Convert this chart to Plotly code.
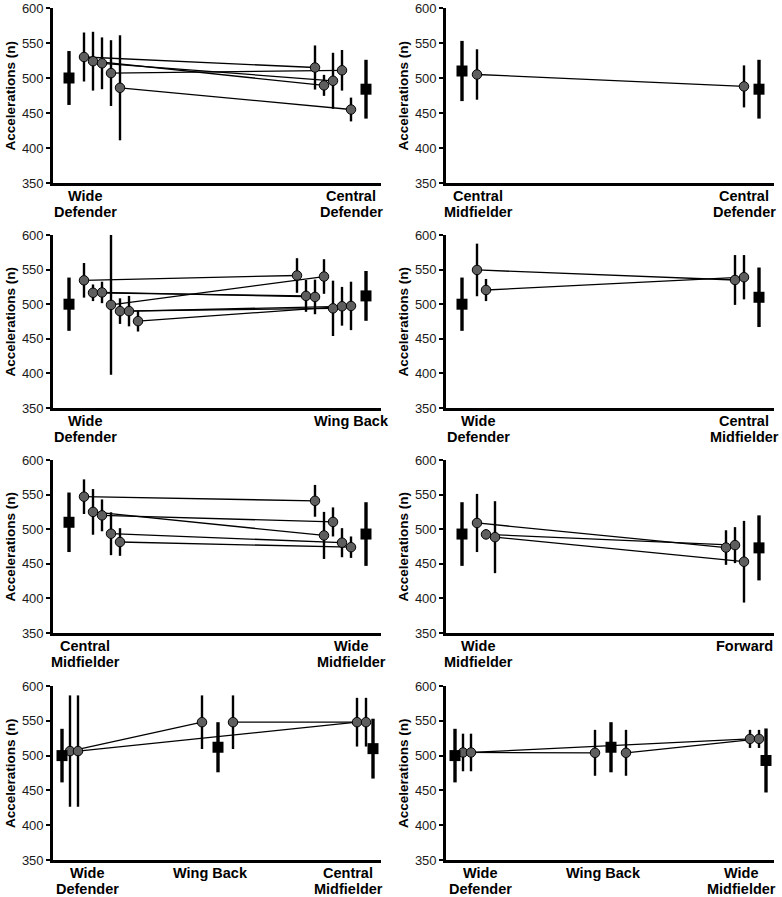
import plotly.graph_objects as go

FIG_W, FIG_H = 782, 897

# ---------------- data ----------------
position_labels = ["Wide<br>Defender", "Central<br>Defender", "Central<br>Midfielder",
                   "Wing Back", "Wide<br>Midfielder", "Forward"]
group_mean = [500, 484, 510, 512, 493, 473]
group_sd = [38.5, 42, 43, 36, 46, 47]

y_ticks = [350, 400, 450, 500, 550, 600]
y_title = "Accelerations (n)"

# categories shown in each panel (indexes into position_labels)
panel_categories = [[0, 1], [2, 1], [0, 3], [0, 2], [2, 4], [4, 5], [0, 3, 2], [0, 3, 4]]

# individual players: outer list = category, inner list = player (None = not observed)
p1_values = [[530, 524, 521, 507, 486], [515, 489.5, 496, 511, 455]]
p1_sd = [[35, 42, 37, 47, 75], [31.5, 15, 40, 29, 17]]

p2_values = [[505], [488]]
p2_sd = [[36], [30]]

p3_values = [[534.5, 516.5, 517, 499, 490, 490, 475.5], [541.5, 512, 510.5, 540, 494, 497, 497.5]]
p3_sd = [[25, 12, 15.5, 101, 18.5, 22, 15], [25, 23, 25, 25, 40, 28, 35]]

p4_values = [[549.5, 520.5], [535, 539]]
p4_sd = [[38, 16], [36, 32]]

p5_values = [[547, 525, 520, 493.5, 481.5], [541, 491, 510.5, 480.5, 474]]
p5_sd = [[25, 33, 23, 31, 20], [23, 34, 21, 21, 15.5]]

p6_values = [[509, 492.5, 488.5], [473.5, 477, 453]]
p6_sd = [[42, 7, 52], [25, 26, 59]]

p7_values = [[506.5, 506.5, None], [548, None, 548], [None, 548, 548]]
p7_sd = [[80, 80, None], [38.5, None, 38.5], [None, 35, 35]]

p8_values = [[504.5, 504.5, None], [504, None, 504], [None, 524, 524]]
p8_sd = [[27, 27, None], [33, None, 33], [None, 13, 13]]

panel_values = [p1_values, p2_values, p3_values, p4_values, p5_values, p6_values, p7_values, p8_values]
panel_sd = [p1_sd, p2_sd, p3_sd, p4_sd, p5_sd, p6_sd, p7_sd, p8_sd]

# ---------------- layout constants (pixels) ----------------
COL_X = [(53, 381), (446, 774)]
ROW_Y = [(8, 183), (235, 408), (460, 633), (686, 860)]
AXIS_W = 328
SQUARE_X = {2: [16, 313], 3: [9, 165, 320]}
LABEL_X = {2: [32, 298], 3: [34, 157, 295]}

FONT = "Liberation Sans, Arial, sans-serif"
CIRCLE_FILL = "#5e5e5e"


def player_x(ncat, cat, k, n):
    if ncat == 2:
        return 31 + 9 * k if cat == 0 else 298 - 9 * (n - 1 - k)
    if cat == 0:
        return 17 + 8 * k
    if cat == 1:
        return (149, 180)[k]
    return 304 + 9 * k


def px_to_paper_y(py):
    return 1 - py / FIG_H


fig = go.Figure()
layout = dict(
    template="none",
    width=FIG_W, height=FIG_H,
    margin=dict(l=0, r=0, t=0, b=0, pad=0, autoexpand=False),
    paper_bgcolor="white", plot_bgcolor="white",
    showlegend=False,
    font=dict(family=FONT, color="black"),
)
annotations = []

for p, cats in enumerate(panel_categories):
    row, col = divmod(p, 2)
    ax = "" if p == 0 else str(p + 1)
    xref, yref = "x" + ax, "y" + ax
    x0, x1 = COL_X[col]
    ytop, ybot = ROW_Y[row]
    ncat = len(cats)
    values = panel_values[p]
    sds = panel_sd[p]
    nplayers = len(values[0])

    # x positions of each player in each category
    px = [[None] * nplayers for _ in cats]
    for c in range(ncat):
        present = [i for i in range(nplayers) if values[c][i] is not None]
        for k, i in enumerate(present):
            px[c][i] = player_x(ncat, c, k, len(present))

    # connecting lines
    for i in range(nplayers):
        xs = [px[c][i] for c in range(ncat) if values[c][i] is not None]
        ys = [values[c][i] for c in range(ncat) if values[c][i] is not None]
        fig.add_trace(go.Scatter(x=xs, y=ys, mode="lines", xaxis=xref, yaxis=yref,
                                 line=dict(color="black", width=1.3), hoverinfo="skip"))

    # player markers
    for c in range(ncat):
        present = [i for i in range(nplayers) if values[c][i] is not None]
        fig.add_trace(go.Scatter(
            x=[px[c][i] for i in present], y=[values[c][i] for i in present],
            mode="markers", xaxis=xref, yaxis=yref,
            marker=dict(symbol="circle", size=9.5, color=CIRCLE_FILL,
                        line=dict(color="black", width=1)),
            error_y=dict(type="data", array=[sds[c][i] for i in present], symmetric=True,
                         color="black", thickness=2.4, width=0),
            cliponaxis=False))

    # group means
    fig.add_trace(go.Scatter(
        x=SQUARE_X[ncat], y=[group_mean[g] for g in cats],
        mode="markers", xaxis=xref, yaxis=yref,
        marker=dict(symbol="square", size=11, color="black"),
        error_y=dict(type="data", array=[group_sd[g] for g in cats], symmetric=True,
                     color="black", thickness=3.4, width=0),
        cliponaxis=False))

    layout["xaxis" + ax] = dict(
        domain=[x0 / FIG_W, x1 / FIG_W], range=[0, AXIS_W], anchor=yref, automargin=False,
        showgrid=False, zeroline=False, showticklabels=False, ticks="",
        showline=True, linecolor="black", linewidth=2.6, fixedrange=True)
    layout["yaxis" + ax] = dict(
        domain=[px_to_paper_y(ybot), px_to_paper_y(ytop)], range=[350, 600], anchor=xref,
        automargin=False,
        tickvals=y_ticks, ticks="outside", ticklen=4, tickwidth=2, tickcolor="black",
        tickfont=dict(size=13, family=FONT, color="#1a1a1a"),
        showgrid=False, zeroline=False, showline=True, linecolor="black", linewidth=2.6,
        fixedrange=True)

    # y axis title
    annotations.append(dict(
        text=y_title, textangle=-90, xref="paper", yref="paper",
        x=(x0 - 43) / FIG_W, y=px_to_paper_y((ytop + ybot) / 2),
        xanchor="center", yanchor="middle", showarrow=False,
        font=dict(size=13.5, family=FONT, color="black", weight="bold")))

    # category labels
    for c, g in enumerate(cats):
        for li, line in enumerate(position_labels[g].split("<br>")):
            annotations.append(dict(
                text=line, xref=xref, yref="paper", x=LABEL_X[ncat][c],
                y=px_to_paper_y(ybot + 13 + 16 * li),
                xanchor="center", yanchor="middle", showarrow=False,
                font=dict(size=14.5, family=FONT, color="black", weight="bold")))

layout["annotations"] = annotations
fig.update_layout(**layout)
fig.write_html(
    "out.html",
    config={"displayModeBar": False},
    post_script="document.body.style.margin='0px';document.body.style.overflow='hidden';",
)
